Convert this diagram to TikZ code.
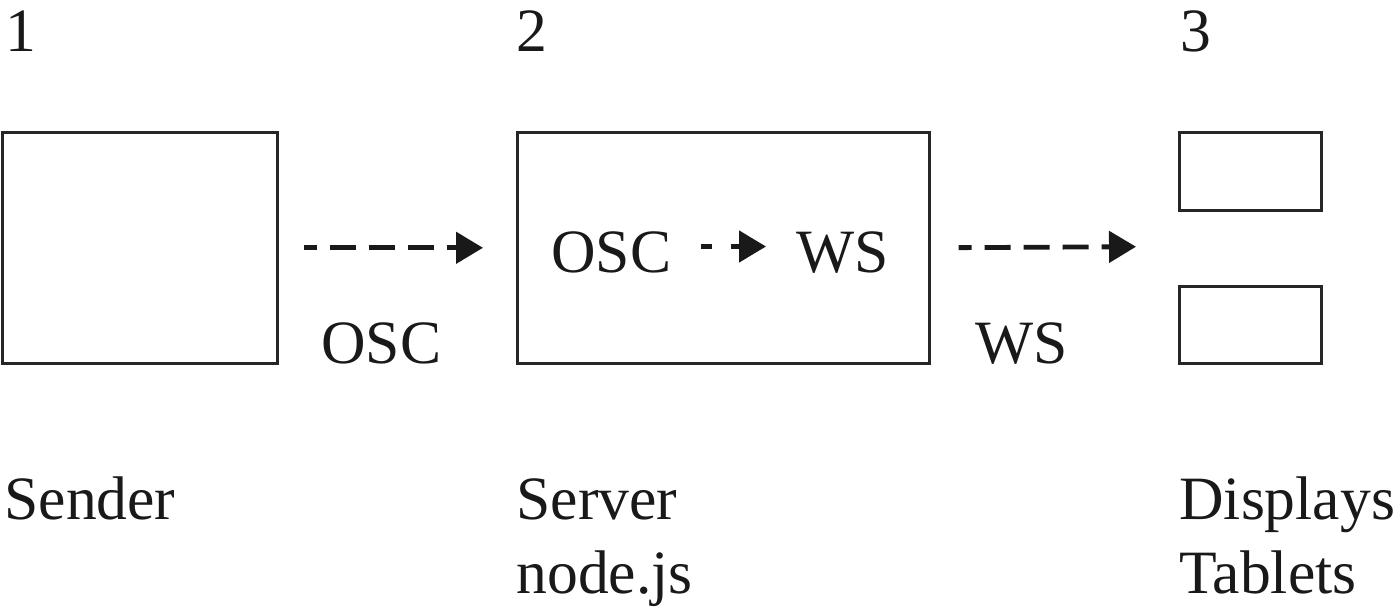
\documentclass[tikz,border=0pt]{standalone}
\usepackage{fontspec}
\setmainfont{Liberation Serif}
\usetikzlibrary{arrows.meta}
\begin{document}
\begin{tikzpicture}[x=0.5pt,y=-0.5pt,
  boxnode/.style={draw=black!85, line width=1.3pt, inner sep=0, anchor=north west},
  lbl/.style={inner sep=0, anchor=base west, font=\fontsize{30.8}{36}\selectfont, text=black!90},
  dasharrow/.style={line width=2.4pt, black!90, dash pattern=on 13pt off 6.5pt,
     -{Triangle[length=13.5pt,width=15.5pt]}}
]
\useasboundingbox (0,0) rectangle (1400,614);
% boxes
\node[boxnode, minimum width=137.5pt, minimum height=115.5pt] (sender) at (1,131) {};
\node[boxnode, minimum width=206pt, minimum height=115.5pt] (server) at (516,131) {};
\node[boxnode, minimum width=71pt, minimum height=39pt] (disp1) at (1178,131) {};
\node[boxnode, minimum width=71pt, minimum height=38.5pt] (disp2) at (1178,285) {};
\coordinate (dispin) at (1178,246.5);
% numbers
\node[lbl] (n1) at (5,52) {1};
\node[lbl] (n2) at (516,52) {2};
\node[lbl] (n3) at (1180,52) {3};
% inner texts
\node[lbl] (iosc) at (551,273) {OSC};
\node[lbl] (iws) at (796,273) {WS};
% labels
\node[lbl] (losc) at (321,363) {OSC};
\node[lbl] (lws) at (975,363) {WS};
\node[lbl] (tsender) at (4,519) {Sender};
\node[lbl] (tserver) at (516,519) {Server};
\node[lbl] (tnode) at (516,593) {node.js};
\node[lbl] (tdisp) at (1179,519) {Displays};
\node[lbl] (ttab) at (1179,593) {Tablets};
% arrows
\draw[dasharrow, dash phase=6.5pt, shorten <=12.5pt, shorten >=16.5pt] (sender.east) -- (server.west);
\draw[dasharrow, dash pattern=on 5.5pt off 9.5pt, shorten <=14.5pt, shorten >=15pt] (iosc.east |- 0,246.5) -- (iws.west |- 0,246.5);
\draw[dasharrow, dash phase=6.5pt, shorten <=14pt, shorten >=21pt] (server.east) -- (dispin);
\end{tikzpicture}
\end{document}
